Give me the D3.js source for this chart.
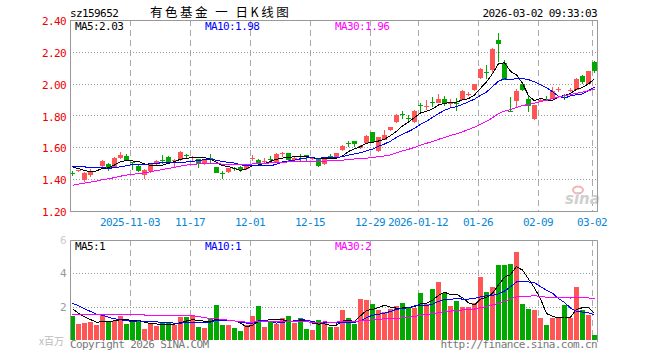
<!DOCTYPE html>
<html>
<head>
<meta charset="utf-8">
<script src="https://cdn.jsdelivr.net/npm/d3@7"></script>
<style>
  body { margin: 0; background: #fff; }
  svg { display: block; }
  text { font-family: "DejaVu Sans Mono", monospace; font-size: 11px; letter-spacing: -0.6px; }
  .cn { font-family: "Noto Sans CJK SC", sans-serif; font-size: 12.5px; letter-spacing: 2.5px; }
</style>
</head>
<body>
<div id="chart"></div>
<script>
// header texts
var symbol = "sz159652";
var title = "有色基金 一 日K线图";
var stamp = "2026-03-02 09:33:03";

// trading days shown (2025-10-20 .. 2026-03-02)
var dates = [
  "2025-10-20","2025-10-21","2025-10-22","2025-10-23","2025-10-24","2025-10-27","2025-10-28","2025-10-29","2025-10-30","2025-10-31",
  "2025-11-03","2025-11-04","2025-11-05","2025-11-06","2025-11-07","2025-11-10","2025-11-11","2025-11-12","2025-11-13","2025-11-14",
  "2025-11-17","2025-11-18","2025-11-19","2025-11-20","2025-11-21","2025-11-24","2025-11-25","2025-11-26","2025-11-27","2025-11-28",
  "2025-12-01","2025-12-02","2025-12-03","2025-12-04","2025-12-05","2025-12-08","2025-12-09","2025-12-10","2025-12-11","2025-12-12",
  "2025-12-15","2025-12-16","2025-12-17","2025-12-18","2025-12-19","2025-12-22","2025-12-23","2025-12-24","2025-12-25","2025-12-26",
  "2025-12-29","2025-12-30","2025-12-31","2026-01-05","2026-01-06","2026-01-07","2026-01-08","2026-01-09",
  "2026-01-12","2026-01-13","2026-01-14","2026-01-15","2026-01-16","2026-01-19","2026-01-20","2026-01-21","2026-01-22","2026-01-23",
  "2026-01-26","2026-01-27","2026-01-28","2026-01-29","2026-01-30","2026-02-02","2026-02-03","2026-02-04","2026-02-05","2026-02-06",
  "2026-02-09","2026-02-10","2026-02-11","2026-02-12","2026-02-13","2026-02-24","2026-02-25","2026-02-26","2026-02-27",
  "2026-03-02"
];

var open = [
  1.440,1.450,1.395,1.428,1.470,1.487,1.495,1.474,1.533,1.548,
  1.506,1.483,1.428,1.449,1.495,1.522,1.541,1.510,1.520,1.550,
  1.535,1.525,1.491,1.530,1.479,1.440,1.443,1.468,1.478,1.462,
  1.528,1.521,1.508,1.528,1.511,1.564,1.563,1.525,1.545,1.550,
  1.528,1.526,1.495,1.545,1.530,1.582,1.626,1.637,1.595,1.626,
  1.697,1.574,1.647,1.704,1.756,1.812,1.785,1.758,1.866,1.852,
  1.884,1.880,1.906,1.870,1.876,1.898,1.933,1.958,2.036,2.074,
  2.090,2.276,2.130,1.830,1.892,1.997,1.905,1.775,1.896,1.902,
  1.907,1.960,1.918,1.955,1.962,2.050,2.000,2.135
];
var high = [
  1.452,1.460,1.443,1.462,1.478,1.520,1.504,1.537,1.571,1.558,
  1.510,1.495,1.462,1.504,1.520,1.552,1.546,1.527,1.579,1.558,
  1.547,1.527,1.527,1.558,1.479,1.449,1.472,1.478,1.485,1.496,
  1.552,1.524,1.530,1.548,1.563,1.569,1.565,1.545,1.555,1.551,
  1.542,1.528,1.541,1.560,1.565,1.614,1.641,1.638,1.612,1.676,
  1.699,1.665,1.708,1.727,1.808,1.829,1.805,1.832,1.880,1.900,
  1.914,1.935,1.925,1.905,1.908,1.960,1.948,1.998,2.098,2.118,
  2.222,2.320,2.148,1.918,1.965,2.000,1.922,1.868,1.910,1.920,
  1.976,1.978,1.935,1.972,2.035,2.052,2.082,2.140
];
var low = [
  1.420,1.445,1.382,1.416,1.468,1.478,1.453,1.470,1.525,1.516,
  1.458,1.445,1.403,1.441,1.489,1.495,1.495,1.478,1.516,1.525,
  1.517,1.470,1.487,1.504,1.437,1.399,1.437,1.452,1.448,1.458,
  1.516,1.492,1.498,1.516,1.506,1.541,1.517,1.520,1.517,1.517,
  1.521,1.475,1.490,1.525,1.528,1.578,1.599,1.605,1.590,1.622,
  1.630,1.570,1.645,1.700,1.750,1.775,1.760,1.750,1.820,1.835,
  1.851,1.878,1.862,1.845,1.830,1.895,1.920,1.955,2.030,2.032,
  2.066,2.138,2.020,1.820,1.850,1.955,1.825,1.770,1.888,1.888,
  1.905,1.950,1.895,1.945,1.958,2.000,1.995,2.070
];
var close = [
  1.436,1.455,1.441,1.453,1.475,1.516,1.470,1.531,1.552,1.520,
  1.500,1.451,1.458,1.500,1.516,1.518,1.504,1.518,1.569,1.545,
  1.540,1.495,1.525,1.527,1.441,1.437,1.468,1.464,1.462,1.490,
  1.532,1.500,1.512,1.524,1.559,1.567,1.521,1.535,1.540,1.546,
  1.535,1.480,1.538,1.540,1.563,1.609,1.620,1.620,1.609,1.672,
  1.635,1.662,1.676,1.725,1.802,1.808,1.780,1.826,1.862,1.858,
  1.880,1.905,1.878,1.885,1.870,1.957,1.938,1.995,2.095,2.068,
  2.220,2.250,2.025,1.824,1.955,1.959,1.860,1.865,1.900,1.898,
  1.955,1.965,1.912,1.962,2.030,2.010,2.080,2.078
];
// volume, millions
var volume = [
  1.42,0.96,1.02,1.06,0.90,1.52,1.10,1.14,1.42,0.94,
  1.18,1.18,0.66,0.96,0.82,1.02,1.04,0.92,1.36,1.36,
  1.42,0.78,0.72,1.26,2.08,0.88,0.88,0.70,0.54,0.92,
  1.42,2.02,0.78,1.06,0.94,1.30,1.42,1.02,1.30,0.66,
  0.60,1.20,1.08,0.80,0.80,1.80,1.30,0.94,2.44,2.38,
  2.14,1.80,1.68,1.88,2.04,2.20,1.96,1.90,2.80,2.18,
  3.04,3.48,2.84,2.04,2.34,1.98,1.98,2.20,3.78,2.88,
  3.16,4.50,4.50,4.56,5.28,2.14,1.84,1.78,1.30,0.88,
  1.30,1.34,2.08,1.30,3.16,1.80,1.48,0.28
];
// sessions before the window (not drawn, only feed the moving averages)
var priorClose = [
  1.24,1.25,1.27,1.26,1.28,1.29,1.30,1.29,1.31,1.35,
  1.33,1.30,1.29,1.31,1.30,1.32,1.31,1.33,1.35,1.37,
  1.45,1.47,1.50,1.49,1.50,1.51,1.50,1.49,1.45
];
var priorVolume = [
  1.0,1.1,1.2,1.1,1.0,1.2,1.3,1.1,1.2,1.1,
  1.1,1.3,1.2,1.4,1.3,1.2,1.1,1.3,1.2,1.2,
  2.4,2.9,2.6,2.5,2.2,2.3,2.1,1.9,1.68
];

var tickDates = ["2025-11-03","2025-11-17","2025-12-01","2025-12-15","2025-12-29","2026-01-12","2026-01-26","2026-02-09","2026-03-02"];
var tickLabels = ["2025-11-03","11-17","12-01","12-15","12-29","2026-01-12","01-26","02-09","03-02"];
var priceTicks = [1.20,1.40,1.60,1.80,2.00,2.20,2.40];
var volumeTicks = [2,4,6];

var maPeriods = [5,10,30];
var maColors = ["#000000","#0000ff","#ff00ff"];
var maLabelX = [75,205,335];

var upColor = "#ff5555", downColor = "#00a800";

var svg = d3.select("#chart").append("svg")
  .attr("width", 660)
  .attr("height", 360);

var idx = d3.range(dates.length);

var x = d3.scaleBand()
  .domain(idx)
  .range([69.5, 597.5])
  .paddingInner(1/6)
  .paddingOuter(1/12);
var cx = function(i) { return x(i) + x.bandwidth() / 2; };

var y = d3.scaleLinear().domain([1.2, 2.4]).range([211, 20]);
var yv = d3.scaleLinear().domain([0, 6]).range([340, 240]);

function crisp(v) { return Math.round(v) + 0.5; }

function movingAvg(prior, values, n) {
  var all = prior.concat(values);
  return values.map(function(v, i) {
    var j = i + prior.length;
    return d3.mean(all.slice(j - n + 1, j + 1));
  });
}

var tickIdx = tickDates.map(function(d) { return dates.indexOf(d); });

// ---------- header ----------
svg.append("text").attr("x", 70).attr("y", 17).text(symbol);
svg.append("text").attr("class", "cn").attr("x", 150).attr("y", 16.5).text(title);
svg.append("text").attr("x", 597).attr("y", 17).attr("text-anchor", "end").text(stamp);

// ---------- panel grid ----------
function panelGrid(top, bottom, hValues, yScale) {
  svg.append("g").selectAll("line")
    .data(tickIdx)
    .enter().append("line")
    .attr("x1", function(i) { return crisp(x(i)); })
    .attr("x2", function(i) { return crisp(x(i)); })
    .attr("y1", top)
    .attr("y2", bottom)
    .attr("stroke", "#aaa")
    .attr("stroke-dasharray", "6,4");

  svg.append("g").selectAll("line")
    .data(hValues)
    .enter().append("line")
    .attr("x1", 70)
    .attr("x2", 597)
    .attr("y1", function(v) { return crisp(yScale(v)); })
    .attr("y2", function(v) { return crisp(yScale(v)); })
    .attr("stroke", "#999")
    .attr("stroke-dasharray", "1,2");
}

panelGrid(20, 211, priceTicks.slice(1, -1), y);
panelGrid(240, 340, [2, 4], yv);

// price axis labels
svg.append("g").selectAll("text")
  .data(priceTicks)
  .enter().append("text")
  .attr("x", 66)
  .attr("y", function(v) { return y(v) + 5; })
  .attr("text-anchor", "end")
  .attr("fill", "#ee0000")
  .text(function(v) { return v.toFixed(2); });

// date labels
svg.append("g").selectAll("text")
  .data(tickIdx)
  .enter().append("text")
  .attr("x", function(i) { return x(i); })
  .attr("y", 226)
  .attr("text-anchor", "middle")
  .attr("fill", "#0a86d6")
  .text(function(i, k) { return tickLabels[k]; });

// volume axis labels
svg.append("g").selectAll("text")
  .data(volumeTicks)
  .enter().append("text")
  .attr("x", 66)
  .attr("y", function(v) { return yv(v) + 4; })
  .attr("text-anchor", "end")
  .attr("fill", function(v) { return v === 6 ? "#ccc" : "#999"; })
  .text(function(v) { return v; });
svg.append("text")
  .attr("class", "cn")
  .attr("x", 64).attr("y", 345)
  .attr("text-anchor", "end")
  .style("font-size", "10px").style("letter-spacing", "0px")
  .attr("fill", "#bbb")
  .text("x百万");

// sina watermark
svg.append("ellipse")
  .attr("cx", 578).attr("cy", 190).attr("rx", 5).attr("ry", 3.5)
  .attr("fill", "none").attr("stroke", "#f3b4b4").attr("stroke-width", 2);
svg.append("text")
  .attr("x", 565).attr("y", 204)
  .style("font-family", "DejaVu Sans").style("font-size", "15px")
  .style("font-style", "italic").style("font-weight", "bold")
  .style("letter-spacing", "0px")
  .attr("fill", "#cfcfcf")
  .text("sina");

// ---------- candles ----------
var candle = svg.append("g").attr("shape-rendering", "crispEdges");
candle.selectAll("line")
  .data(idx)
  .enter().append("line")
  .attr("x1", function(i) { return cx(i); })
  .attr("x2", function(i) { return cx(i); })
  .attr("y1", function(i) { return Math.round(y(high[i])); })
  .attr("y2", function(i) { return Math.round(y(low[i])); })
  .attr("stroke", function(i) { return close[i] >= open[i] ? upColor : downColor; });
candle.selectAll("rect")
  .data(idx)
  .enter().append("rect")
  .attr("x", function(i) { return x(i); })
  .attr("width", x.bandwidth())
  .attr("y", function(i) { return Math.round(y(Math.max(open[i], close[i]))); })
  .attr("height", function(i) {
    return Math.max(1, Math.round(Math.abs(y(open[i]) - y(close[i]))));
  })
  .attr("fill", function(i) { return close[i] >= open[i] ? upColor : downColor; });

// ---------- volume bars ----------
svg.append("g").attr("shape-rendering", "crispEdges")
  .selectAll("rect")
  .data(idx)
  .enter().append("rect")
  .attr("x", function(i) { return x(i); })
  .attr("width", x.bandwidth())
  .attr("y", function(i) { return Math.round(yv(volume[i])); })
  .attr("height", function(i) { return 340 - Math.round(yv(volume[i])); })
  .attr("fill", function(i) { return close[i] >= open[i] ? upColor : downColor; });

// ---------- moving averages ----------
function drawMA(series, yScale, color) {
  var line = d3.line()
    .x(function(v, i) { return cx(i); })
    .y(function(v) { return yScale(v); });
  svg.append("path")
    .datum(series)
    .attr("d", line)
    .attr("fill", "none")
    .attr("stroke", color)
    .attr("stroke-width", 1)
    .attr("shape-rendering", "crispEdges");
}

maPeriods.forEach(function(n, k) {
  var pm = movingAvg(priorClose, close, n);
  var vm = movingAvg(priorVolume, volume, n);
  drawMA(pm, y, maColors[k]);
  drawMA(vm, yv, maColors[k]);

  svg.append("text")
    .attr("x", maLabelX[k]).attr("y", 30)
    .attr("fill", maColors[k])
    .text("MA" + n + ":" + pm[pm.length - 1].toFixed(2));
  svg.append("text")
    .attr("x", maLabelX[k]).attr("y", 250)
    .attr("fill", maColors[k])
    .text("MA" + n + ":" + Math.floor(vm[vm.length - 1]));
});

// ---------- frames ----------
svg.append("rect")
  .attr("x", 70.5).attr("y", 20.5).attr("width", 527).attr("height", 191)
  .attr("fill", "none").attr("stroke", "#999");
svg.append("path")
  .attr("d", "M70.5,340V240.5H597.5V342")
  .attr("fill", "none").attr("stroke", "#999");

// ---------- footer ----------
svg.append("text").attr("x", 70).attr("y", 348).attr("fill", "#777").text("Copyright 2026 SINA.COM");
svg.append("text").attr("x", 597).attr("y", 348).attr("text-anchor", "end").attr("fill", "#777").text("http://finance.sina.com.cn");
</script>
</body>
</html>
